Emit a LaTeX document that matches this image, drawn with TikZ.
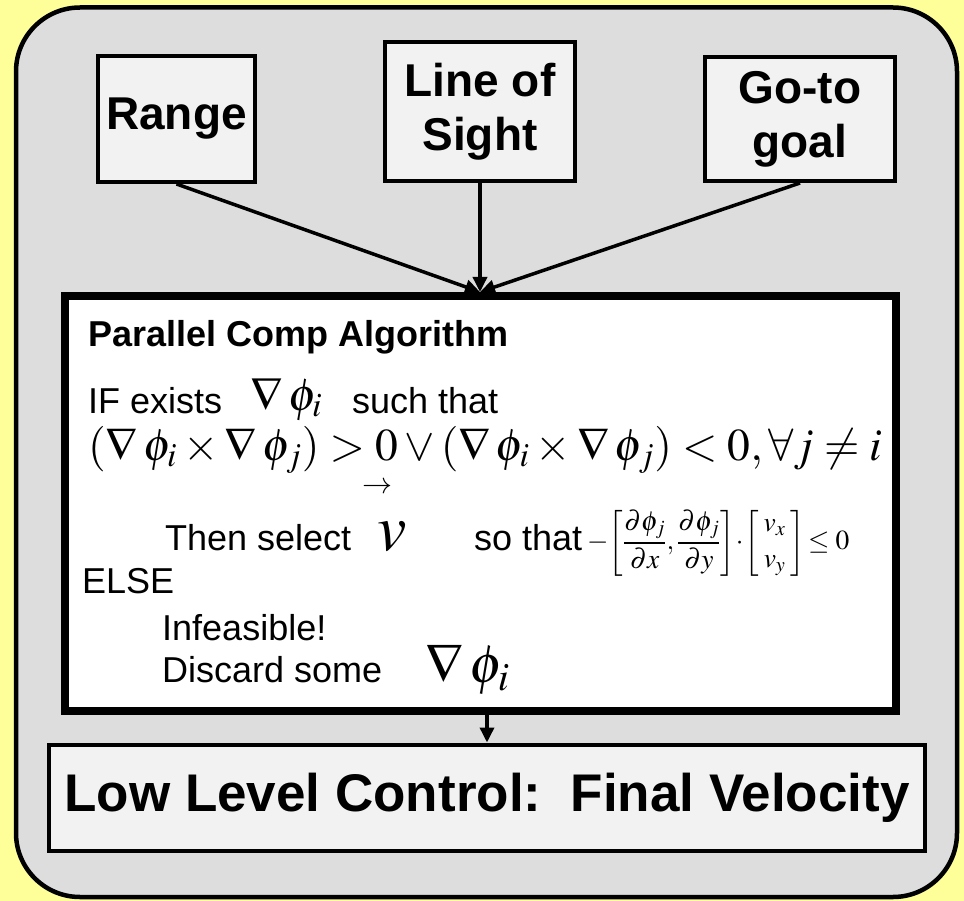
\documentclass[tikz,border=0pt]{standalone}
\usepackage{amsmath}
\usepackage{mathptmx}
\usepackage[no-math]{fontspec}
\setmainfont{Liberation Sans}
\usetikzlibrary{arrows.meta}

\definecolor{bgyellow}{RGB}{255,255,153}
\definecolor{panelgray}{RGB}{221,221,221}
\definecolor{boxgray}{RGB}{242,242,242}

\tikzset{
  topbox/.style={draw, line width=4pt, fill=boxgray, align=center,
    font=\fontsize{46}{54}\selectfont\bfseries},
  link/.style={line width=3.5pt, -{Triangle[length=15pt,width=14pt]}},
  body/.style={anchor=base west, inner sep=0pt, font=\fontsize{36}{40}\selectfont},
}

\begin{document}
\begin{tikzpicture}[x=1pt,y=-1pt]
  \fill[bgyellow] (0,0) rectangle (964,901);
  \draw[line width=4.5pt, fill=panelgray, rounded corners=64pt] (16,7.5) rectangle (957,897);

  % input boxes
  \node[topbox, minimum width=157pt, minimum height=126pt] (range) at (176.5,119) {Range};
  \node[topbox, minimum width=190pt, minimum height=139pt] (sight) at (480,111.5) {Line of\\Sight};
  \node[topbox, minimum width=190pt, minimum height=124pt] (goal) at (800,119) {Go-to\\goal};

  % algorithm and output boxes
  \node[draw, line width=8pt, fill=white, minimum width=831pt, minimum height=415pt] (algo) at (480.5,503.5) {};
  \node[draw, line width=4pt, fill=boxgray, minimum width=876pt, minimum height=106pt,
    font=\fontsize{53}{60}\selectfont\bfseries] (low) at (487,797.5) {Low Level Control:\ \ Final Velocity};

  \coordinate (join) at (algo.north -| sight.south);
  \draw[link] (range.south) -- (join);
  \draw[link] (sight.south) -- (join);
  \draw[link] (goal.south) -- (join);
  \draw[link] (algo.south -| low.north) -- (low.north);

  % algorithm text
  \node[body, font=\fontsize{36}{40}\selectfont\bfseries] (title) at (88,347) {Parallel Comp Algorithm};
  \node[body] (ifline) at (88,413) {IF exists};
  \node[body, font=\fontsize{46}{50}\selectfont] (gradi) at (250,410) {$\nabla\,\phi_i$};
  \node[body] (such) at (352,413) {such that};
  \node[body, font=\fontsize{45.5}{48}\selectfont] (cross) at (88,460)
    {$(\nabla\,\phi_i \times \nabla\,\phi_j) > 0 \vee (\nabla\,\phi_i \times \nabla\,\phi_j) < 0, \forall j \neq i$};
  \node[inner sep=0pt, font=\fontsize{30}{30}\selectfont] (vecarrow) at (377,488) {$\rightarrow$};
  \node[body] (thenline) at (165,550) {Then select};
  \node[body, font=\fontsize{66}{70}\selectfont] (vsym) at (377,550) {$v$};
  \node[body] (sothat) at (474,550) {so that};
  \node[anchor=west, inner sep=0pt, font=\fontsize{27.5}{30}\selectfont] (dotform) at (587,543)
    {$-\!\left[\dfrac{\partial\phi_j}{\partial x},\dfrac{\partial\phi_j}{\partial y}\right]\!\cdot\!\left[\vphantom{\dfrac{\partial\phi_j}{\partial x}}\begin{array}{c}v_x\\[6pt] v_y\end{array}\right]\!\le 0$};
  \node[body] (elseline) at (82,593) {ELSE};
  \node[body] (infeas) at (162,640) {Infeasible!};
  \node[body] (discard) at (162,682) {Discard some};
  \node[body, font=\fontsize{54}{58}\selectfont] (gradlast) at (425,682) {$\nabla\,\phi_i$};
\end{tikzpicture}
\end{document}
